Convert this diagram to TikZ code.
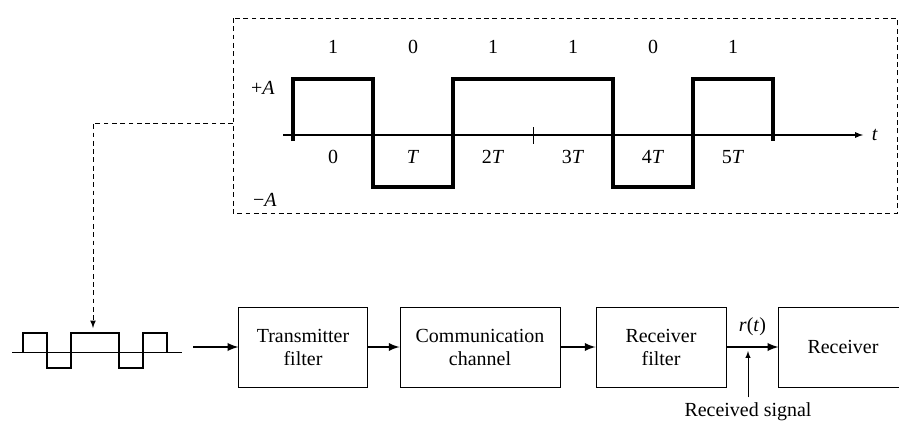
\documentclass[tikz,border=0pt]{standalone}
\usepackage{fontspec}
\setmainfont{Liberation Serif}
\usetikzlibrary{positioning,arrows}

\begin{document}
\begin{tikzpicture}[x=0.22mm,y=-0.22mm,
	font=\fontsize{12.5}{14.4}\selectfont,
	block/.style={draw,line width=0.6pt,align=center,minimum height=17.6mm,inner sep=2pt},
	pulse/.style={line width=1.9pt,line join=miter},
	link/.style={black,-latex,line width=1.3pt},
	guide/.style={line width=0.6pt,dash pattern=on 3pt off 2.2pt}]

	\useasboundingbox (0,0) rectangle (899,425);
	\clip (0,0) rectangle (899,425);

	% upper panel: the bit sequence
	\draw[guide] (233,18) rectangle (897,213);
	\coordinate (W) at (233,123);

	\draw[black,-latex,line width=0.7pt] (283,135) -- (863,135) coordinate (E);
	\node[right=2pt of E] (t) {\textit{t}};
	\draw[line width=0.6pt] (533,127) -- (533,144);

	\draw[pulse] (293,141) -- (293,79) -- (373,79) -- (373,187) -- (453,187) -- (453,79)
		-- (613,79) -- (613,187) -- (693,187) -- (693,79) -- (773,79) -- (773,141);

	\node (pA) at (263,88) {+\textit{A}};
	\node (mA) at (265,200) {\textminus\textit{A}};

	\node (b1) at (333,47) {1};
	\node (b2) at (413,47) {0};
	\node (b3) at (493,47) {1};
	\node (b4) at (573,47) {1};
	\node (b5) at (653,47) {0};
	\node (b6) at (733,47) {1};

	\node (t0) at (333,157) {0};
	\node (t1) at (413,157) {\textit{T}};
	\node (t2) at (493,157) {2\textit{T}};
	\node (t3) at (573,157) {3\textit{T}};
	\node (t4) at (653,157) {4\textit{T}};
	\node (t5) at (733,157) {5\textit{T}};

	% small copy of the waveform
	\draw[line width=0.6pt] (12,352) -- (182,352);
	\draw[pulse,line width=1.8pt] (23,352) -- (23,333) -- (47,333) -- (47,368) -- (71,368) -- (71,333)
		-- (119,333) -- (119,368) -- (143,368) -- (143,333) -- (167,333) -- (167,352);
	\coordinate (S) at (93,328);
	\draw[guide,-latex] (W) -| (S);

	% the chain of blocks
	\node[block,minimum width=28.2mm] (T) at (303,347) {Transmitter\\filter};
	\node[block,minimum width=35.2mm] (C) at (480,347) {Communication\\channel};
	\node[block,minimum width=28.6mm] (F) at (661,347) {Receiver\\filter};
	\node[block,minimum width=28.2mm] (R) at (843,347) {Receiver};

	\coordinate (in) at (193,347);
	\draw[link] (in) -- (T);
	\draw[link] (T) -- (C);
	\draw[link] (C) -- (F);
	\draw[link] (F) -- (R) node[midway,above=3pt] (rt) {\textit{r}(\textit{t})};

	\node (sig) at (748,412) {Received signal};
	\draw[-latex,line width=0.5pt] (sig.north) -- (748,351);
\end{tikzpicture}
\end{document}
